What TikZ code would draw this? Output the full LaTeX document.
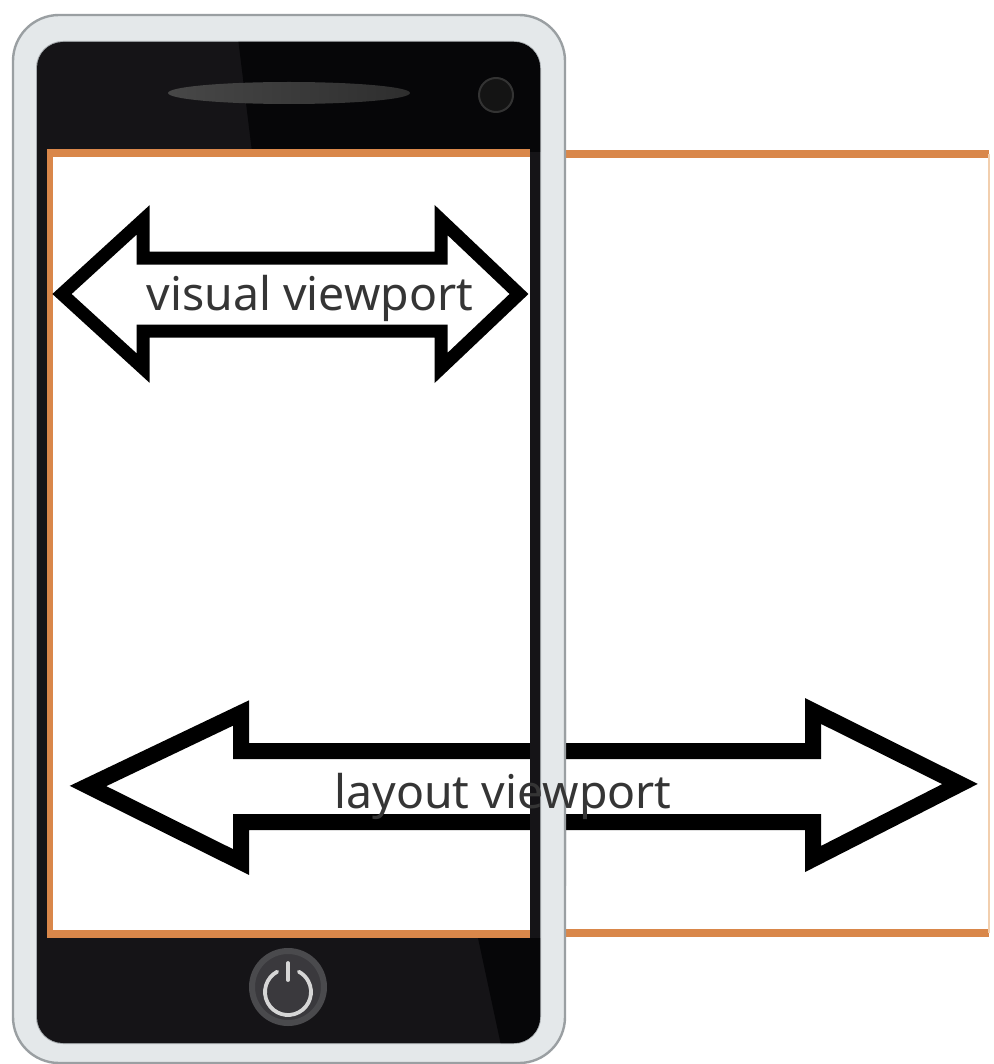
\documentclass[tikz,border=0pt]{standalone}
\usepackage{fontspec}
\setmainfont{Noto Sans}
\definecolor{silver}{HTML}{E4E8EA}
\definecolor{silveredge}{HTML}{9A9FA2}
\definecolor{bezelrim}{HTML}{A7ACAF}
\definecolor{bezel}{HTML}{151417}
\definecolor{bezeldark}{HTML}{060608}
\definecolor{vporange}{HTML}{D9874A}
\definecolor{vporangefaint}{HTML}{F2CFAE}
\definecolor{btn}{HTML}{3A393D}
\definecolor{btnrim}{HTML}{4A4A4D}
\definecolor{btnicon}{HTML}{D6D6D6}
\definecolor{labeltext}{HTML}{353535}
\begin{document}
\begin{tikzpicture}[x=0.5pt,y=-0.5pt,
  body/.style={fill=silver, draw=silveredge, line width=1.2pt, rounded corners=23pt},
  bezelshape/.style={rounded corners=13pt},
  rim/.style={draw=bezelrim, line width=1pt, bezelshape},
  edge/.style={draw=vporange, line width=4pt},
  blockarrow/.style={draw=black, fill=white, line join=miter},
  label/.style={text=labeltext, font=\fontsize{23.2pt}{26pt}\selectfont, inner sep=0pt, anchor=base},
  icon/.style={draw=btnicon, line width=1.9pt, line cap=round}]
\useasboundingbox (0,0) rectangle (993,1064);
\fill[white] (0,0) rectangle (993,1064);

% layout viewport frame reaching beyond the phone
\draw[edge] (400,154) -- (989,154);
\draw[edge] (400,933) -- (989,933);
\draw[vporangefaint, line width=1pt] (989,154) -- (989,933);

% phone body
\path[body] (13,15) rectangle (565,1063);
\draw[rim] (37,42) rectangle (540,1043);
\begin{scope}
  \clip[bezelshape] (37,42) rectangle (540,1043);
  \fill[bezel] (30,30) rectangle (550,1050);
  \fill[bezeldark] (237,30) -- (550,30) -- (550,152) -- (252,152) -- cycle;
  \fill[bezeldark] (478,938) -- (550,938) -- (550,1050) -- (502,1050) -- cycle;
\end{scope}

% speaker and camera
\shade[left color=black!72!white, right color=black!82!white] (289,93) ellipse [x radius=60.5pt, y radius=5.5pt];
\filldraw[fill=black!92!white, draw=black!80!white, line width=1pt] (496,95) circle [radius=8.5pt];

% screen
\fill[white] (47,152) rectangle (530,935);
\draw[edge] (47,153) -- (530,153);
\draw[edge] (47,934) -- (530,934);
\draw[vporange, line width=3pt] (50,150) -- (50,937);

% power button
\node[circle, fill=btn, draw=btnrim, line width=3pt, minimum size=36pt, inner sep=0pt] (power) at (288,987) {};
\coordinate (pc) at (288,992);
\draw[icon] ([shift={(118:11.5pt)}]pc) arc [start angle=118, end angle=422, radius=11.5pt];
\draw[icon] (288,963) -- (288,980);

% visual viewport arrow
\draw[blockarrow, line width=6.5pt] (62,294) -- (143,220) -- (143,258) -- (441,258) -- (441,220)
  -- (519,294) -- (441,368) -- (441,331) -- (143,331) -- (143,368) -- cycle;
\node[label] (vv) at (310,310) {visual viewport};

% layout viewport arrow
\draw[blockarrow, line width=8pt] (88,786) -- (241,713) -- (241,751) -- (813,751) -- (813,711)
  -- (960,784) -- (813,859) -- (813,822) -- (241,822) -- (241,862) -- cycle;

% phone edge passing over the layout arrow
\begin{scope}
  \clip (530,690) rectangle (580,885);
  \path[body] (13,15) rectangle (565,1063);
  \draw[rim] (37,42) rectangle (540,1043);
  \fill[bezel, bezelshape] (37,42) rectangle (540,1043);
\end{scope}
\node[label] (lv) at (503,808) {layout viewport};
\end{tikzpicture}
\end{document}
